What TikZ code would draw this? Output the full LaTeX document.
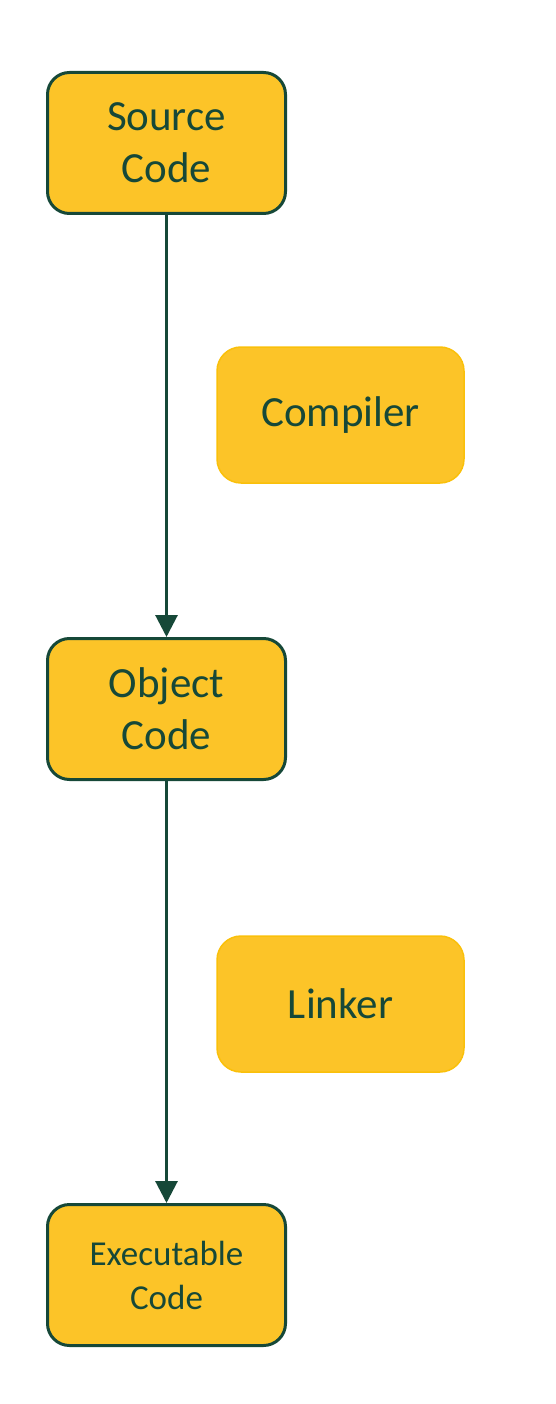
\documentclass[tikz,border=0pt]{standalone}
\usepackage{fontspec}
\setmainfont{Carlito}
\usepackage{tikz}
\usetikzlibrary{arrows.meta}

\definecolor{boxfill}{RGB}{252,196,40}
\definecolor{boxedge}{RGB}{250,192,10}
\definecolor{darkgreen}{RGB}{22,72,56}

\tikzset{
  codebox/.style={draw=darkgreen, line width=3pt, fill=boxfill, rounded corners=22pt,
    minimum width=238pt, minimum height=141pt, align=center, text=darkgreen,
    font=\fontsize{43}{52}\selectfont},
  toolbox/.style={draw=boxedge, line width=1.5pt, fill=boxfill, rounded corners=24pt,
    minimum width=247pt, minimum height=136pt, align=center, text=darkgreen,
    font=\fontsize{43}{52}\selectfont},
  flow/.style={draw=darkgreen, line width=3pt, -{Triangle[width=22pt,length=22pt]}}
}

\begin{document}
\begin{tikzpicture}[x=1pt,y=-1pt]
\useasboundingbox (0,0) rectangle (556,1404);

\node[codebox] (source) at (166.5,143) {Source\\Code};
\node[toolbox] (compiler) at (340.5,415) {Compiler};
\node[codebox] (object) at (166.5,709) {Object\\Code};
\node[toolbox] (linker) at (340.5,1004) {Linker};
\node[codebox, font=\fontsize{35}{44}\selectfont] (exec) at (166.5,1275) {Executable\\Code};

\draw[flow] (source.south) -- (object.north) ; % compile step
\draw[flow] (object.south) -- (exec.north) ; % link step
\end{tikzpicture}
\end{document}
